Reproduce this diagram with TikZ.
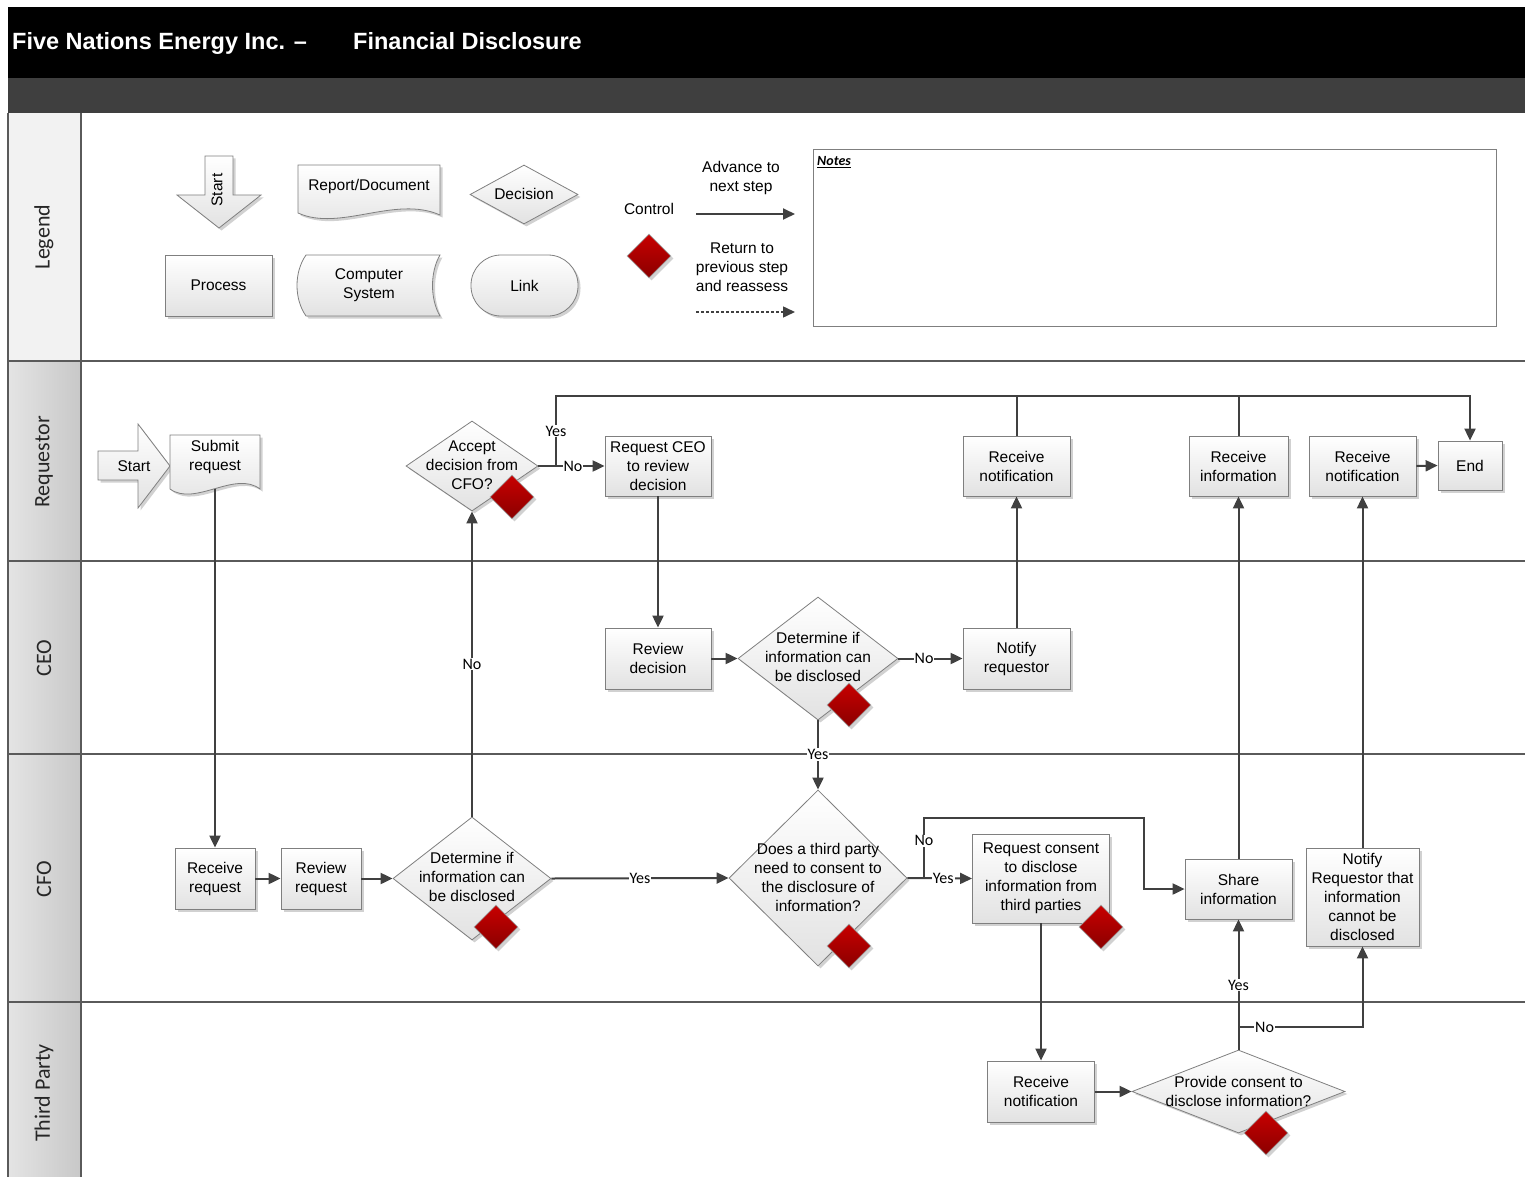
\documentclass[tikz,border=0pt]{standalone}
\usepackage{fontspec}
\setmainfont{Liberation Sans}
\newfontfamily\carlito{Carlito}
\usetikzlibrary{shapes.geometric, arrows.meta, shadows}

\definecolor{linecol}{HTML}{404040}
\definecolor{bordercol}{HTML}{7F7F7F}
\definecolor{boxbot}{HTML}{E2E2E2}
\definecolor{ctrtop}{HTML}{C80000}
\definecolor{ctrbot}{HTML}{8A0000}
\definecolor{lanecol}{HTML}{5A5A5A}
\definecolor{bandcol}{HTML}{3F3F3F}
\definecolor{lanefillL}{HTML}{E4E4E4}
\definecolor{lanefillR}{HTML}{C8C8C8}
\definecolor{legfill}{HTML}{F2F2F2}

\newcommand{\bodyfont}{\fontsize{15.5}{19}\selectfont}
\newcommand{\titlefont}{\fontsize{23.5}{28}\selectfont\bfseries}
\newcommand{\lanefont}{\carlito\fontsize{22}{26}\selectfont}
\newcommand{\lblfont}{\carlito\fontsize{16}{18}\selectfont}
\newcommand{\notesfont}{\carlito\fontsize{14}{16}\selectfont\bfseries\itshape}

\begin{document}
\begin{tikzpicture}[x=1pt, y=-1pt,
  shadowed/.style={drop shadow={shadow xshift=2.5pt, shadow yshift=-2.5pt, fill=black, opacity=0.18}},
  boxfill/.style={draw=bordercol, line width=0.8pt, top color=white, bottom color=boxbot, shadowed},
  proc/.style={rectangle, boxfill, inner sep=0pt, align=center, font=\bodyfont},
  dec/.style={diamond, boxfill, inner sep=0pt},
  txt/.style={align=center, font=\bodyfont, inner sep=0pt},
  ctrl/.style={diamond, draw=gray!70, line width=0.6pt, top color=ctrtop, bottom color=ctrbot,
               inner sep=0pt, minimum width=44pt, minimum height=44pt, shadowed},
  lanelbl/.style={rotate=90, font=\lanefont, text=black!85},
  lbl/.style={font=\lblfont, fill=white, inner sep=1pt},
  flow/.style={draw=linecol, line width=2pt, -{Triangle[length=12pt, width=11pt]}},
  link/.style={draw=linecol, line width=2pt},
  laneline/.style={draw=lanecol, line width=1.4pt}
]
\useasboundingbox (0,0) rectangle (1525,1177);

% ---------- header ----------
\fill[black] (8,7) rectangle (1525,78);
\fill[bandcol] (8,78) rectangle (1525,113);
\node[anchor=base west, inner sep=0pt, text=white, font=\titlefont] (title) at (12,49.5) {Five Nations Energy Inc. –};
\node[anchor=base west, inner sep=0pt, text=white, font=\titlefont] (subtitle) at (353,49.5) {Financial Disclosure};

% ---------- lane heading column ----------
\fill[legfill] (8,113) rectangle (81,361);
\shade[left color=lanefillL, right color=lanefillR] (8,361) rectangle (81,1177);
\draw[laneline] (8,113) -- (8,1177);
\draw[laneline] (81,113) -- (81,1177);
\draw[laneline] (8,361) -- (1525,361);
\draw[laneline] (8,561) -- (1525,561);
\draw[laneline] (8,754) -- (1525,754);
\draw[laneline] (8,1002) -- (1525,1002);

\node[lanelbl] (lnlegend) at (44,237) {Legend};
\node[lanelbl] (lnreq) at (44,462) {Requestor};
\node[lanelbl] (lnceo) at (44,658) {CEO};
\node[lanelbl] (lncfo) at (44,879) {CFO};
\node[lanelbl] (lntp) at (44,1093) {Third Party};

% ---------- legend ----------
\path[boxfill] (205,156) -- (233,156) -- (233,195) -- (261,195) -- (219,228) -- (177,195) -- (205,195) -- cycle;
\node[txt, rotate=90] (lgstart) at (217,190) {Start};

\path[boxfill] (298,165) -- (440,165) -- (440,215) .. controls (395,195) and (340,232) .. (298,213) -- cycle;
\node[txt] (lgdoc) at (369,186) {Report/Document};

\node[dec, minimum width=108pt, minimum height=59pt] (lgdec) at (524,194.5) {};
\node[txt] (lgdect) at (524,194) {Decision};

\node[proc, minimum width=107pt, minimum height=61pt] (lgproc) at (218.5,285.5) {Process};

\path[boxfill] (306,255) -- (440,255) .. controls (430,272) and (430,299) .. (440,316) -- (306,316) .. controls (294,299) and (294,272) .. (306,255) -- cycle;
\node[txt] (lgsys) at (369,285) {Computer\\System};

\node[proc, rounded corners=30pt, minimum width=107pt, minimum height=61pt] (lglink) at (524.5,285.5) {Link};

\node[txt] (lgctrlt) at (649,209) {Control};
\node[ctrl] (lgctrl) at (649,256) {};

\node[txt] (lgadv) at (741,178) {Advance to\\next step};
\coordinate (adva) at (696,214);
\coordinate (advb) at (795,214);
\draw[flow, line width=1.8pt] (adva) -- (advb);

\node[txt] (lgret) at (742,267) {Return to\\previous step\\and reassess};
\coordinate (reta) at (696,312);
\coordinate (retb) at (795,312);
\draw[flow, line width=1.5pt, dash pattern=on 3pt off 2pt] (reta) -- (retb);

\node[draw=bordercol, line width=0.8pt, anchor=north west, minimum width=683pt, minimum height=177pt, inner sep=0pt] (notes) at (813,149) {};
\node[anchor=west, inner sep=0pt, font=\notesfont] (notest) at (817,162) {\underline{Notes}};

% ---------- Requestor lane ----------
\path[boxfill] (98,451) -- (138,451) -- (138,424) -- (170,466) -- (138,508) -- (138,480) -- (98,480) -- cycle;
\node[txt] (start) at (134,466) {Start};

\path[boxfill] (170,435) -- (260,435) -- (260,489) .. controls (235,470) and (195,507) .. (170,489) -- cycle;
\node[txt, minimum width=90pt, minimum height=64pt] (submit) at (215,457) {Submit\\request};

\node[dec, minimum width=132pt, minimum height=90pt] (accept) at (472,466) {};
\node[txt] (acceptt) at (472,465) {Accept\\decision from\\CFO?};

\node[proc, minimum width=106pt, minimum height=60pt] (reqceo) at (658,466) {Request CEO\\to review\\decision};
\node[proc, minimum width=107pt, minimum height=60pt] (rcvnot1) at (1016.5,466) {Receive\\notification};
\node[proc, minimum width=99pt, minimum height=60pt] (rcvinfo) at (1238.5,466) {Receive\\information};
\node[proc, minimum width=107pt, minimum height=60pt] (rcvnot2) at (1362.5,466) {Receive\\notification};
\node[proc, minimum width=64pt, minimum height=49pt] (end) at (1470,465.5) {End};

% ---------- CEO lane ----------
\node[proc, minimum width=106pt, minimum height=61pt] (revdec) at (658,658.5) {Review\\decision};
\node[dec, minimum width=160pt, minimum height=123pt] (ceodet) at (818,658.5) {};
\node[txt] (ceodett) at (818,657) {Determine if\\information can\\be disclosed};
\node[proc, minimum width=107pt, minimum height=61pt] (notify) at (1016.5,658.5) {Notify\\requestor};

% ---------- CFO lane ----------
\node[proc, minimum width=80pt, minimum height=61pt] (rcvreq) at (215,878.5) {Receive\\request};
\node[proc, minimum width=80pt, minimum height=61pt] (revreq) at (321,878.5) {Review\\request};
\node[dec, minimum width=158pt, minimum height=123pt] (cfodet) at (472,878.5) {};
\node[txt] (cfodett) at (472,877) {Determine if\\information can\\be disclosed};
\node[dec, minimum width=178pt, minimum height=176pt] (third) at (818,878) {};
\node[txt] (thirdt) at (818,877) {Does a third party\\need to consent to\\the disclosure of\\information?};
\node[proc, minimum width=137pt, minimum height=89pt] (consent) at (1041,878.5) {Request consent\\to disclose\\information from\\third parties};
\node[proc, minimum width=107pt, minimum height=60pt] (share) at (1238.5,889) {Share\\information};
\node[proc, minimum width=113pt, minimum height=98pt] (notifyno) at (1362.5,897) {Notify\\Requestor that\\information\\cannot be\\disclosed};

% ---------- Third Party lane ----------
\node[proc, minimum width=107pt, minimum height=61pt] (tprcv) at (1041,1091.5) {Receive\\notification};
\node[dec, minimum width=213pt, minimum height=83pt] (consentdec) at (1238.5,1091.5) {};
\node[txt] (consentdect) at (1238.5,1091) {Provide consent to\\disclose information?};

% ---------- connectors ----------
\coordinate (jacc) at (556,466);
\coordinate (topl) at (556,396);
\coordinate (topr) at (1470,396);
\draw[flow] (accept.east) -- (jacc) -- node[lbl, pos=0.35]{No} (reqceo.west);
\draw[flow] (jacc) -- node[lbl]{Yes} (topl) -- (topr) -- (end.north);
\draw[link] (rcvnot1.north) -- (rcvnot1.north |- topl);
\draw[link] (rcvinfo.north) -- (rcvinfo.north |- topl);
\draw[flow] (rcvnot2.east) -- (end.west);

\draw[flow] (submit.south) -- (rcvreq.north);
\draw[flow] (rcvreq.east) -- (revreq.west);
\draw[flow] (revreq.east) -- (cfodet.west);
\draw[flow] (cfodet.north) -- node[lbl]{No} (accept.south);
\draw[flow] (cfodet.east) -- node[lbl]{Yes} (third.west);

\draw[flow] (reqceo.south) -- (revdec.north);
\draw[flow] (revdec.east) -- (ceodet.west);
\draw[flow] (ceodet.east) -- node[lbl, pos=0.4]{No} (notify.west);
\draw[flow] (notify.north) -- (rcvnot1.south);
\draw[flow] (ceodet.south) -- node[lbl, pos=0.49]{Yes} (third.north);

\coordinate (jthird) at (924,878);
\coordinate (nobend1) at (924,818);
\coordinate (nobend2) at (1144,818);
\draw[flow] (third.east) -- (jthird) -- node[lbl, pos=0.4]{Yes} (consent.west);
\draw[flow] (jthird) -- node[lbl, pos=0.62]{No} (nobend1) -- (nobend2) |- (share.west);
\draw[flow] (share.north) -- (rcvinfo.south);
\draw[flow] (notifyno.north) -- (rcvnot2.south);
\draw[flow] (consent.south) -- (tprcv.north);
\draw[flow] (tprcv.east) -- (consentdec.west);

\coordinate (jcons) at (1238.5,1027);
\draw[flow] (consentdec.north) -- (jcons) -- node[lbl, pos=0.39]{Yes} (share.south);
\draw[flow] (jcons) -- node[lbl, pos=0.21]{No} (jcons -| notifyno.south) -- (notifyno.south);

% ---------- control markers ----------
\node[ctrl] (ctlacc) at (512,497) {};
\node[ctrl] (ctlceo) at (849,705) {};
\node[ctrl] (ctlcfo) at (496,927) {};
\node[ctrl] (ctlthird) at (849,946) {};
\node[ctrl] (ctlcons) at (1101,927) {};
\node[ctrl] (ctltp) at (1266,1133) {};
\end{tikzpicture}
\end{document}
